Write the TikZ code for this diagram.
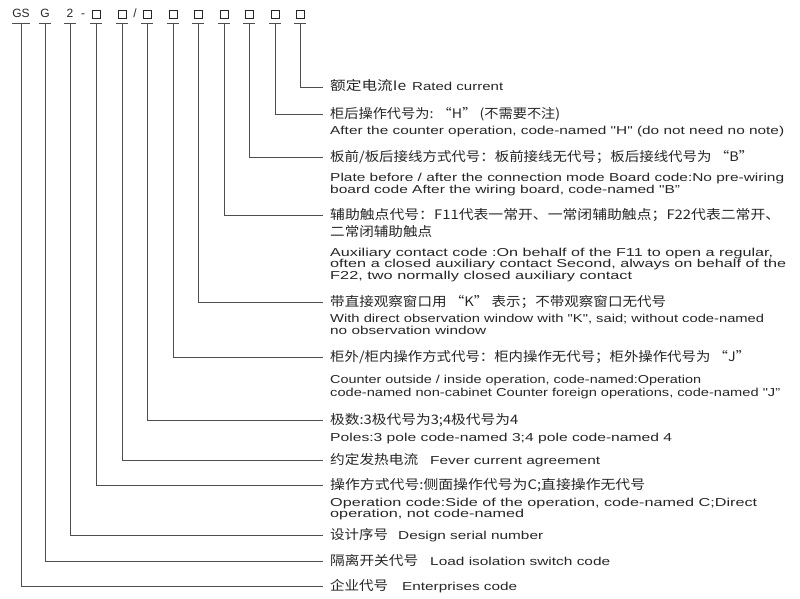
\documentclass[tikz,border=0pt]{standalone}
\usepackage{fontspec}
\setmainfont{Liberation Sans}
\newfontfamily\cjk{Noto Sans CJK SC}[Scale=1.14]
\usepackage{tikz}
\usetikzlibrary{positioning}
\definecolor{ink}{HTML}{262626}
\definecolor{wire}{HTML}{4E4E4E}
\newcommand{\fitto}[2]{\resizebox{#1pt}{\height}{#2}}
\newcommand{\sqbox}{{\setlength\fboxsep{0pt}\setlength\fboxrule{0.6pt}\fbox{\rule{0pt}{7.8pt}\hspace{7.8pt}}}}
\newcommand{\qq}{\textquotedbl}

\begin{document}
\begin{tikzpicture}[x=1pt,y=-1pt]
\tikzstyle{head}=[anchor=base,inner sep=0pt,minimum width=12pt,text depth=5pt,text=ink,font=\fontsize{12}{12}\selectfont]
\tikzstyle{sep}=[anchor=base,inner sep=0pt,text=ink,font=\fontsize{12}{12}\selectfont]
\tikzstyle{note}=[anchor=base west,align=left,inner xsep=7pt,inner ysep=0pt,text=ink,font=\fontsize{11.5}{12}\selectfont]
\tikzstyle{wire}=[draw=wire,line width=0.8pt]
\useasboundingbox (0,0) rectangle (800,599);

% type code
\node[head] at(21, 18) (gs) {GS};
\node[head] at(45, 18) (g) {G};
\node[head] at(70, 18) (two) {2};
\node[sep] at(83, 18) (hy) {-};
\node[head] at(96, 18) (c1) {\sqbox};
\node[head] at(122, 18) (c2) {\sqbox};
\node[sep] at(135, 18) (sl) {/};
\node[head] at(147, 18) (c3) {\sqbox};
\node[head] at(173, 18) (c4) {\sqbox};
\node[head] at(198, 18) (c5) {\sqbox};
\node[head] at(224, 18) (c6) {\sqbox};
\node[head] at(249, 18) (c7) {\sqbox};
\node[head] at(275, 18) (c8) {\sqbox};
\node[head] at(300, 18) (c9) {\sqbox};

% explanations: first line (t) and the lines below it (e)
\node[note] at(323, 91) (t1) {\fitto{76}{\cjk 额定电流Ie}\hspace{6pt}\fitto{91}{Rated current}};
\node[note] at(323, 118) (t2) {\fitto{230}{\cjk 柜后操作代号为: “H” (不需要不注)}};
\node[note] at(323, 135) (e2) {\fitto{454}{After the counter operation, code-named \qq H\qq{} (do not need no note)}};
\node[note] at(323, 161) (t3) {\fitto{423}{\cjk 板前/板后接线方式代号：板前接线无代号；板后接线代号为 “B”}};
\node[note] at(323, 193) (e3) {\fitto{454}{Plate before / after the connection mode Board code:No pre-wiring}\\
                              \fitto{350}{board code After the wiring board, code-named \qq B”}};
\node[note] at(323, 219) (t4) {\fitto{450}{\cjk 辅助触点代号：F11代表一常开、一常闭辅助触点；F22代表二常开、}};
\node[note] at(323, 279) (e4) {\fitto{102}{\cjk 二常闭辅助触点}\\[8pt]
                              \fitto{443}{Auxiliary contact code :On behalf of the F11 to open a regular,}\\[-1pt]
                              \fitto{456}{often a closed auxiliary contact Second, always on behalf of the}\\
                              \fitto{302}{F22, two normally closed auxiliary contact}};
\node[note] at(323, 306) (t5) {\fitto{336}{\cjk 带直接观察窗口用 “K” 表示；不带观察窗口无代号}};
\node[note] at(323, 334) (e5) {\fitto{434}{With direct observation window with \qq K\qq, said; without code-named}\\
                              \fitto{156}{no observation window}};
\node[note] at(323, 361) (t6) {\fitto{420}{\cjk 柜外/柜内操作方式代号：柜内操作无代号；柜外操作代号为 “J”}};
\node[note] at(323, 396) (e6) {\fitto{371}{Counter outside / inside operation, code-named:Operation}\\[1pt]
                              \fitto{450}{code-named non-cabinet Counter foreign operations, code-named \qq J”}};
\node[note] at(323, 424) (t7) {\fitto{188}{\cjk 极数:3极代号为3;4极代号为4}};
\node[note] at(323, 441) (e7) {\fitto{342}{Poles:3 pole code-named 3;4 pole code-named 4}};
\node[note] at(323, 464) (t8) {\fitto{88}{\cjk 约定发热电流}\hspace{12pt}\fitto{170}{Fever current agreement}};
\node[note] at(323, 489) (t9) {\fitto{315}{\cjk 操作方式代号:侧面操作代号为C;直接操作无代号}};
\node[note] at(323, 517) (e9) {\fitto{427}{Operation code:Side of the operation, code-named C;Direct}\\[-1pt]
                              \fitto{194}{operation, not code-named}};
\node[note] at(323, 539) (t10) {\fitto{58}{\cjk 设计序号}\hspace{10pt}\fitto{145}{Design serial number}};
\node[note] at(323, 565) (t11) {\fitto{88}{\cjk 隔离开关代号}\hspace{12pt}\fitto{180}{Load isolation switch code}};
\node[note] at(323, 590) (t12) {\fitto{58}{\cjk 企业代号}\hspace{14pt}\fitto{115}{Enterprises code}};

% leaders
\draw[wire] (gs.south west) -- (gs.south east) (gs.south) |- ([yshift=4pt]t12.base west);
\draw[wire] (g.south west) -- (g.south east) (g.south) |- ([yshift=4pt]t11.base west);
\draw[wire] (two.south west) -- (two.south east) (two.south) |- ([yshift=4pt]t10.base west);
\draw[wire] (c1.south west) -- (c1.south east) (c1.south) |- ([yshift=4pt]t9.base west);
\draw[wire] (c2.south west) -- (c2.south east) (c2.south) |- ([yshift=4pt]t8.base west);
\draw[wire] (c3.south west) -- (c3.south east) (c3.south) |- ([yshift=4pt]t7.base west);
\draw[wire] (c4.south west) -- (c4.south east) (c4.south) |- ([yshift=4pt]t6.base west);
\draw[wire] (c5.south west) -- (c5.south east) (c5.south) |- ([yshift=4pt]t5.base west);
\draw[wire] (c6.south west) -- (c6.south east) (c6.south) |- ([yshift=4pt]t4.base west);
\draw[wire] (c7.south west) -- (c7.south east) (c7.south) |- ([yshift=4pt]t3.base west);
\draw[wire] (c8.south west) -- (c8.south east) (c8.south) |- ([yshift=4pt]t2.base west);
\draw[wire] (c9.south west) -- (c9.south east) (c9.south) |- ([yshift=4pt]t1.base west);
\end{tikzpicture}
\end{document}
